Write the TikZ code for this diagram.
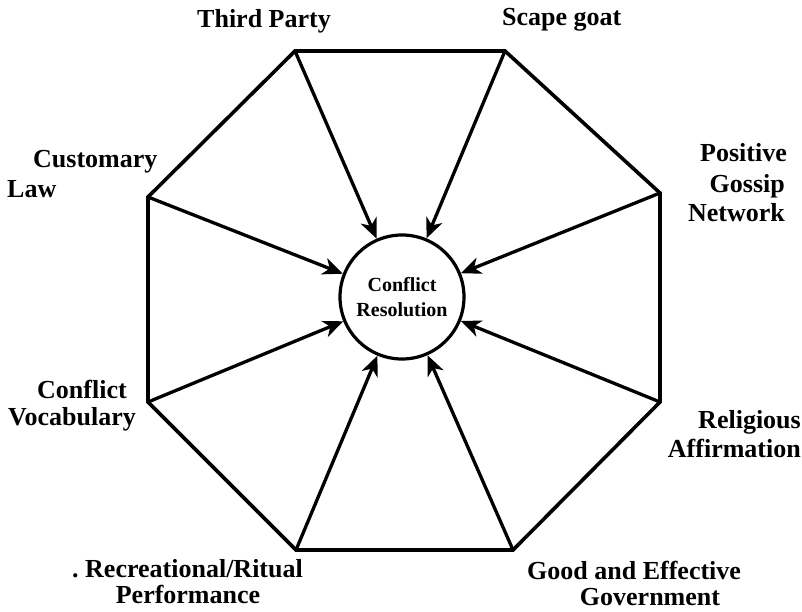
\documentclass[tikz,border=0pt]{standalone}
\usepackage{fontspec}
\setmainfont{Liberation Serif}
\usetikzlibrary{arrows.meta}
\begin{document}
\begin{tikzpicture}[x=1pt,y=-1pt,
  edge/.style={line width=3.6pt, line join=miter},
  spoke/.style={line width=3.3pt, -{Stealth[length=20pt,width=17pt,inset=6pt]}},
  lab/.style={font=\fontsize{26}{28}\selectfont\bfseries, inner sep=0pt},
]
\useasboundingbox (0,0) rectangle (802,612);
% octagon vertices
\coordinate (v1) at (295,51);
\coordinate (v2) at (505,51);
\coordinate (v3) at (660,193);
\coordinate (v4) at (660,402);
\coordinate (v5) at (513,550);
\coordinate (v6) at (296,550);
\coordinate (v7) at (148,402);
\coordinate (v8) at (148,197);
\draw[edge] (v1) -- (v2) -- (v3) -- (v4) -- (v5) -- (v6) -- (v7) -- (v8) -- cycle;
% centre
\node[circle, draw, line width=3.2pt, minimum size=124pt, inner sep=0pt, align=center,
      font=\fontsize{20}{25}\selectfont\bfseries] (cr) at (402,297) {Conflict\\Resolution};
% spokes
\foreach \v in {v1,v2,v3,v4,v5,v6,v7,v8}
  \draw[spoke] (\v) -- (cr);
% labels
\node[lab, anchor=base west] (tp) at (197,28) {Third Party};
\node[lab, anchor=base west] (sg) at (502,26) {Scape goat};
\node[lab, anchor=base west] (cu1) at (33,168) {Customary};
\node[lab, anchor=base west] (cu2) at (7,198) {Law};
\node[lab, anchor=base west] (cv1) at (37,398) {Conflict};
\node[lab, anchor=base west] (cv2) at (8,425) {Vocabulary};
\node[lab, anchor=base east] (pg1) at (787,162) {Positive};
\node[lab, anchor=base east] (pg2) at (785,193) {Gossip};
\node[lab, anchor=base east] (pg3) at (785,222) {Network};
\node[lab, anchor=base east] (ra1) at (801,428) {Religious};
\node[lab, anchor=base east] (ra2) at (801,457) {Affirmation};
\node[lab, anchor=base west] (rr1) at (72,577) {.\ Recreational/Ritual};
\node[lab, anchor=base] (rr2) at (188,603) {Performance};
\node[lab, anchor=base west] (ge1) at (527,579) {Good and Effective};
\node[lab, anchor=base] (ge2) at (650,605) {Government};
\end{tikzpicture}
\end{document}
